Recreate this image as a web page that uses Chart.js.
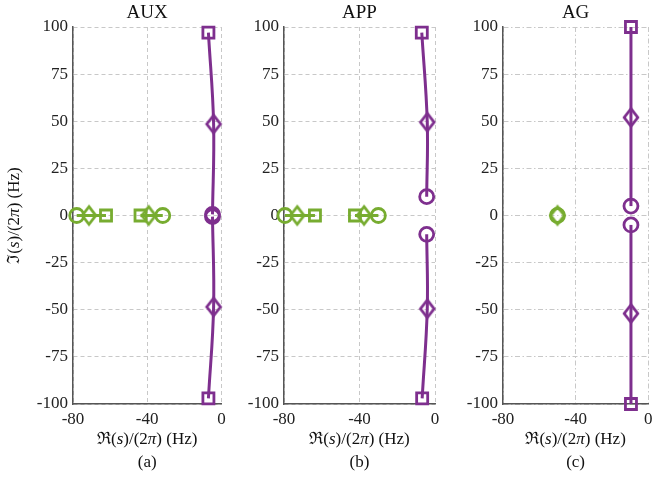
<!DOCTYPE html>
<html>
<head>
<meta charset="utf-8">
<script src="https://cdn.jsdelivr.net/npm/chart.js@4.4.0/dist/chart.umd.min.js"></script>
<style>
  body { margin: 0; background: #fff; }
  #wrap { position: relative; width: 659px; height: 483px; }
  #wrap canvas { position: absolute; top: 0; }
</style>
</head>
<body>
<div id="wrap">
  <canvas id="aux" width="232" height="483" style="left:0px"></canvas>
  <canvas id="app" width="215" height="483" style="left:232px"></canvas>
  <canvas id="ag" width="212" height="483" style="left:447px"></canvas>
</div>
<script>
// axis ticks
const reTicks = [-80, -40, 0];
const imTicks = [-100, -75, -50, -25, 0, 25, 50, 75, 100];

// marker order along each branch: o = circle, d = diamond, s = square
// AUX
const auxUpRe = [-7, -4.2, -4.8];
const auxUpIm = [97, 48.5, 0.6];
const auxUpMk = ['s', 'd', 'o'];
const auxLoRe = [-4.8, -4.2, -7];
const auxLoIm = [-0.6, -48.5, -97];
const auxLoMk = ['o', 'd', 's'];
const auxRealARe = [-78, -71.4, -62.2];
const auxRealBRe = [-31.6, -39.2, -43.6];
const realMk = ['o', 'd', 's'];

// APP
const appUpRe = [-7, -4.1, -4.4];
const appUpIm = [97, 49.5, 10];
const appLoRe = [-4.4, -4.1, -6.8];
const appLoIm = [-10, -49.5, -97];
const appRealARe = [-79.5, -73, -63.6];
const appRealBRe = [-30, -37.6, -42.4];

// AG
const agUpRe = [-9.5, -9.5, -9.5];
const agUpIm = [100, 52, 5];
const agLoRe = [-9.5, -9.5, -9.5];
const agLoIm = [-5, -52, -100];
const agRealRe = [-50, -50];
const agRealMk = ['o', 'd'];

const PURPLE = '#7E2F8E';
const GREEN = '#77AC30';
const FONT = "'Liberation Serif', 'DejaVu Serif', serif";
const MARK_LW = 2.8;

// open diamond, a little taller than wide
function diamond(color) {
  const c = document.createElement('canvas');
  c.width = 22; c.height = 26;
  const g = c.getContext('2d');
  g.strokeStyle = color;
  g.lineWidth = MARK_LW;
  g.beginPath();
  g.moveTo(11, 4.2); g.lineTo(17.8, 13); g.lineTo(11, 21.8); g.lineTo(4.2, 13);
  g.closePath();
  g.stroke();
  return c;
}

function marker(m, color) {
  if (m === 'd') return { style: diamond(color), r: 8 };
  if (m === 's') return { style: 'rect', r: 7.8 };
  return { style: 'circle', r: 7 };
}

function branch(re, im, marks, color) {
  const mk = marks.map(m => marker(m, color));
  return {
    data: re.map((x, i) => ({ x: x, y: im ? im[i] : 0 })),
    showLine: true,
    borderColor: color,
    borderWidth: 3,
    tension: 0.4,
    pointStyle: mk.map(m => m.style),
    pointRadius: mk.map(m => m.r),
    pointBorderColor: color,
    pointBackgroundColor: 'rgba(0,0,0,0)',
    pointBorderWidth: MARK_LW,
    clip: false
  };
}

// label with italic s and pi
const reParts = [['ℜ(', false], ['s', true], [')/(2', false], ['π', true], [') (Hz)', false]];
const imParts = [['ℑ(', false], ['s', true], [')/(2', false], ['π', true], [') (Hz)', false]];

function drawRich(ctx, parts, cx, cy, size) {
  const fonts = parts.map(p => (p[1] ? 'italic ' : '') + size + 'px ' + FONT);
  let total = 0;
  const widths = parts.map((p, i) => { ctx.font = fonts[i]; const w = ctx.measureText(p[0]).width; total += w; return w; });
  let x = cx - total / 2;
  ctx.textAlign = 'left';
  parts.forEach((p, i) => { ctx.font = fonts[i]; ctx.fillText(p[0], x, cy); x += widths[i]; });
}

const captions = {
  id: 'captions',
  afterDraw(chart, args, o) {
    const ctx = chart.ctx, a = chart.chartArea;
    const cx = (a.left + a.right) / 2;
    ctx.save();
    ctx.fillStyle = '#111';
    ctx.textBaseline = 'middle';
    ctx.textAlign = 'center';
    ctx.font = '19px ' + FONT;
    ctx.fillText(o.title, cx, 13);
    drawRich(ctx, reParts, cx, 440, 17);
    ctx.font = '17px ' + FONT;
    ctx.textAlign = 'center';
    ctx.fillText(o.tag, cx, 463);
    if (o.yLabel) {
      ctx.translate(15, (a.top + a.bottom) / 2);
      ctx.rotate(-Math.PI / 2);
      drawRich(ctx, imParts, 0, 0, 17);
    }
    ctx.restore();
  }
};

function makePanel(id, datasets, p) {
  const tickFont = { family: FONT, size: 17 };
  new Chart(document.getElementById(id), {
    type: 'scatter',
    data: { datasets: datasets },
    options: {
      responsive: false,
      animation: false,
      events: [],
      layout: { padding: { left: 0, right: p.padRight, top: 27, bottom: 49 } },
      plugins: {
        legend: { display: false },
        tooltip: { enabled: false },
        captions: { title: p.title, tag: p.tag, yLabel: p.yLabel }
      },
      scales: {
        x: {
          type: 'linear',
          min: reTicks[0], max: reTicks[reTicks.length - 1],
          afterBuildTicks: s => { s.ticks = reTicks.map(v => ({ value: v })); },
          afterFit: s => { s.height = 30; },
          ticks: { color: '#222', font: tickFont, padding: 5, maxRotation: 0, autoSkip: false },
          grid: { color: '#c8c8c8', lineWidth: 1, drawTicks: false },
          border: { display: true, color: '#555', width: 1.5, dash: p.dash }
        },
        y: {
          type: 'linear',
          min: imTicks[0], max: imTicks[imTicks.length - 1],
          afterBuildTicks: s => { s.ticks = imTicks.map(v => ({ value: v })); },
          afterFit: s => { s.width = p.axisW; },
          ticks: { color: '#222', font: tickFont, padding: 5, autoSkip: false },
          grid: { color: '#c8c8c8', lineWidth: 1, drawTicks: false },
          border: { display: true, color: '#555', width: 1.5, dash: p.dash }
        }
      }
    },
    plugins: [captions]
  });
}

makePanel('aux', [
  branch(auxRealARe, null, realMk, GREEN),
  branch(auxRealBRe, null, realMk, GREEN),
  branch(auxUpRe, auxUpIm, auxUpMk, PURPLE),
  branch(auxLoRe, auxLoIm, auxLoMk, PURPLE)
], { title: 'AUX', tag: '(a)', yLabel: true, axisW: 73, padRight: 7, dash: [4, 3] });

makePanel('app', [
  branch(appRealARe, null, realMk, GREEN),
  branch(appRealBRe, null, realMk, GREEN),
  branch(appUpRe, appUpIm, auxUpMk, PURPLE),
  branch(appLoRe, appLoIm, auxLoMk, PURPLE)
], { title: 'APP', tag: '(b)', yLabel: false, axisW: 52, padRight: 12, dash: [4, 3] });

makePanel('ag', [
  branch(agRealRe, null, agRealMk, GREEN),
  branch(agUpRe, agUpIm, auxUpMk, PURPLE),
  branch(agLoRe, agLoIm, auxLoMk, PURPLE)
], { title: 'AG', tag: '(c)', yLabel: false, axisW: 56, padRight: 5, dash: [5, 2.5, 1.5, 2.5] });
</script>
</body>
</html>
